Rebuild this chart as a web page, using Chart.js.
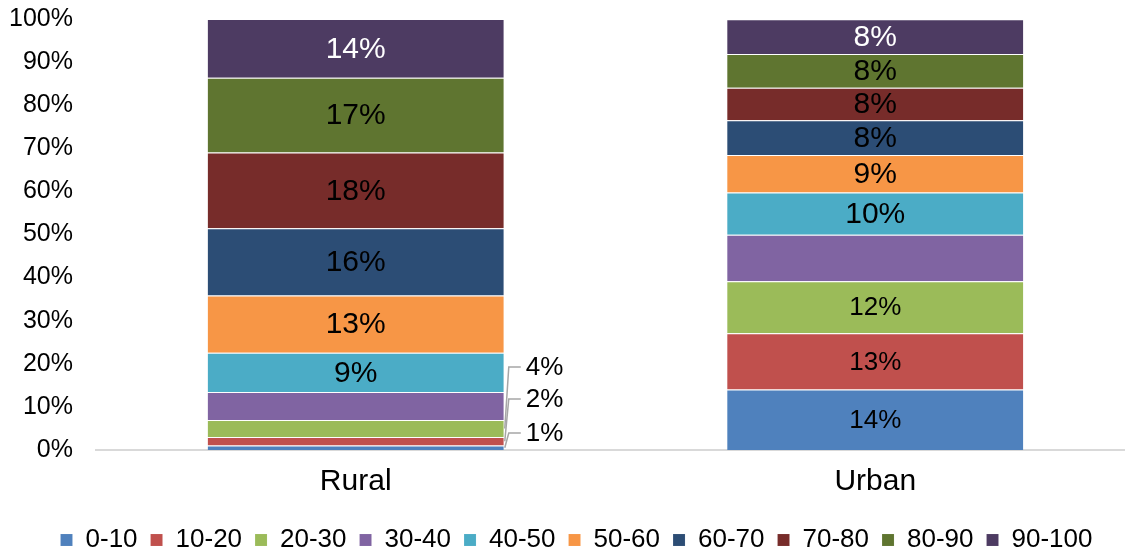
<!DOCTYPE html>
<html>
<head>
<meta charset="utf-8">
<script src="https://cdn.jsdelivr.net/npm/chart.js@4"></script>
<style>
  html, body { margin: 0; padding: 0; background: #fff; overflow: hidden; }
  #wrap { width: 1125px; height: 549px; overflow: hidden; }
</style>
</head>
<body>
<div id="wrap"><canvas id="myChart" width="1140" height="549"></canvas></div>
<script>
// data (share of each band, %)
const categories = ['Rural', 'Urban'];
const bands = ['0-10', '10-20', '20-30', '30-40', '40-50', '50-60', '60-70', '70-80', '80-90', '90-100'];
const rural = [1.05, 1.98, 3.95, 6.5, 9.07, 13.3, 15.6, 17.6, 17.3, 13.65];
const urban = [14.06, 13.0, 12.1, 10.8, 9.76, 8.7, 8.1, 7.55, 7.8, 8.07];
const yTicks = [0, 10, 20, 30, 40, 50, 60, 70, 80, 90, 100];

const colors = ['#4F81BD', '#C0504D', '#9BBB59', '#8064A2', '#4BACC6',
	'#F79646', '#2C4D75', '#772C2A', '#5F7530', '#4D3B62'];

const FONT = '"Liberation Sans", Arial, Helvetica, sans-serif';

// value labels: in the bar, or beside it with a leader line when the slice is too thin
const barLabels = {
	id: 'barLabels',
	afterLayout(chart) {
		// legend sits a bit right of centre in the original
		chart.legend.left += 12;
		chart.legend.right += 12;
	},
	afterDatasetsDraw(chart) {
		const ctx = chart.ctx;
		const zero = chart.scales.y.getPixelForValue(0);
		const noLabel = ['30-40'];
		const outside = {0: [0, 1, 2]};         // category -> band indexes labelled outside
		const outsideOffset = [17, 51, 83];     // label height above the bar base
		const smallUrban = [0, 1, 2];
		ctx.save();
		ctx.textBaseline = 'middle';
		chart.data.datasets.forEach((ds, i) => {
			if (noLabel.includes(ds.label)) return;
			const meta = chart.getDatasetMeta(i);
			meta.data.forEach((bar, j) => {
				const txt = Math.round(ds.data[j]) + '%';
				if (outside[j] && outside[j].includes(i)) {
					const k = outside[j].indexOf(i);
					const right = bar.x + bar.width / 2;
					const ly = zero - outsideOffset[k];
					const my = (bar.y + bar.base) / 2;
					ctx.strokeStyle = '#a6a6a6';
					ctx.lineWidth = 1.5;
					ctx.beginPath();
					ctx.moveTo(right + 1, my);
					ctx.lineTo(right + 5, ly);
					ctx.lineTo(right + 17, ly);
					ctx.stroke();
					ctx.fillStyle = '#000';
					ctx.textAlign = 'left';
					ctx.font = '26px ' + FONT;
					ctx.fillText(txt, right + 22, ly + 1);
					return;
				}
				const size = (j === 1 && smallUrban.includes(i)) ? 26 : 30;
				ctx.font = size + 'px ' + FONT;
				ctx.textAlign = 'center';
				ctx.fillStyle = ds.label === '90-100' ? '#fff' : '#000';
				ctx.fillText(txt, bar.x, (bar.y + bar.base) / 2 + 1);
			});
		});
		ctx.restore();
	}
};

const datasets = bands.map((b, i) => ({
	label: b,
	data: [rural[i], urban[i]],
	backgroundColor: colors[i],
	borderColor: 'rgba(255,255,255,0.35)',
	borderWidth: {top: 1, left: 0, right: 0, bottom: 0},
	borderSkipped: false,
	barPercentage: 0.57,
	categoryPercentage: 1
}));

new Chart(document.getElementById('myChart'), {
	type: 'bar',
	data: {labels: categories, datasets: datasets},
	options: {
		responsive: false,
		animation: false,
		layout: {padding: {left: -6, right: 5, top: 19, bottom: -14}},
		plugins: {
			legend: {
				position: 'bottom',
				labels: {
					boxWidth: 12,
					boxHeight: 12,
					padding: 13,
					color: '#000',
					font: {family: FONT, size: 26}
				}
			},
			tooltip: {enabled: false}
		},
		scales: {
			x: {
				stacked: true,
				grid: {display: false},
				border: {display: true, color: '#d9d9d9', width: 2},
				ticks: {color: '#000', font: {family: FONT, size: 30}, padding: 6},
				afterFit: axis => { axis.height += 8; }
			},
			y: {
				stacked: true,
				min: 0,
				max: 100,
				afterBuildTicks: axis => { axis.ticks = yTicks.map(v => ({value: v})); },
				afterFit: axis => { axis.paddingTop = 0; axis.paddingBottom = 0; },
				grid: {display: false},
				border: {display: false},
				ticks: {
					color: '#000',
					font: {family: FONT, size: 25},
					padding: 15,
					autoSkip: false,
					callback: v => v + '%'
				}
			}
		}
	},
	plugins: [barLabels]
});
</script>
</body>
</html>
